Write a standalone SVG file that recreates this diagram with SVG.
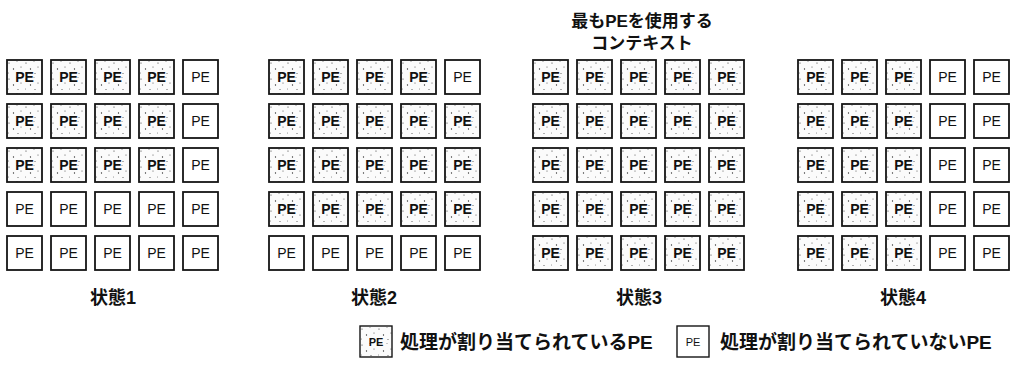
<svg xmlns="http://www.w3.org/2000/svg" width="1010" height="367" viewBox="0 0 1010 367">
<style>
.pe rect{stroke:#151515;stroke-width:1.8}
.on rect{fill:url(#dots)}
.off rect{fill:#fff}
.pe text{font-family:"Liberation Sans",Arial,sans-serif;font-size:14px;text-anchor:middle;fill:#111}
.on text{font-weight:bold}
.jp{font-family:"Liberation Sans","Noto Sans CJK JP",sans-serif;font-weight:bold;fill:#111}
.title{font-size:17px;text-anchor:middle}
.lbl{font-size:18px;text-anchor:middle}
.leg{font-size:19px}
</style>
<defs>
<pattern id="dots" width="17" height="16" patternUnits="userSpaceOnUse">
<rect width="17" height="16" fill="#fbfbfb"/>
<g fill="#333">
<circle cx="2" cy="3" r="0.6"/><circle cx="10" cy="1.5" r="0.45"/><circle cx="6.5" cy="9" r="0.65"/>
<circle cx="14" cy="7" r="0.5"/><circle cx="1.5" cy="13" r="0.45"/><circle cx="11" cy="13.5" r="0.5"/>
</g>
</pattern>
</defs>
<rect width="1010" height="367" fill="#fff"/>

<text class="jp title" x="642" y="27">最もPEを使用する</text>
<text class="jp title" x="642" y="49">コンテキスト</text>

<!-- State 1 -->
<g id="state1">
<g id="s1-1-1" class="pe on" transform="translate(7,60)"><rect width="35" height="34"/><text x="17.5" y="22">PE</text></g>
<g id="s1-1-2" class="pe on" transform="translate(51,60)"><rect width="35" height="34"/><text x="17.5" y="22">PE</text></g>
<g id="s1-1-3" class="pe on" transform="translate(95,60)"><rect width="35" height="34"/><text x="17.5" y="22">PE</text></g>
<g id="s1-1-4" class="pe on" transform="translate(139,60)"><rect width="35" height="34"/><text x="17.5" y="22">PE</text></g>
<g id="s1-1-5" class="pe off" transform="translate(183,60)"><rect width="35" height="34"/><text x="17.5" y="22">PE</text></g>
<g id="s1-2-1" class="pe on" transform="translate(7,104)"><rect width="35" height="34"/><text x="17.5" y="22">PE</text></g>
<g id="s1-2-2" class="pe on" transform="translate(51,104)"><rect width="35" height="34"/><text x="17.5" y="22">PE</text></g>
<g id="s1-2-3" class="pe on" transform="translate(95,104)"><rect width="35" height="34"/><text x="17.5" y="22">PE</text></g>
<g id="s1-2-4" class="pe on" transform="translate(139,104)"><rect width="35" height="34"/><text x="17.5" y="22">PE</text></g>
<g id="s1-2-5" class="pe off" transform="translate(183,104)"><rect width="35" height="34"/><text x="17.5" y="22">PE</text></g>
<g id="s1-3-1" class="pe on" transform="translate(7,148)"><rect width="35" height="34"/><text x="17.5" y="22">PE</text></g>
<g id="s1-3-2" class="pe on" transform="translate(51,148)"><rect width="35" height="34"/><text x="17.5" y="22">PE</text></g>
<g id="s1-3-3" class="pe on" transform="translate(95,148)"><rect width="35" height="34"/><text x="17.5" y="22">PE</text></g>
<g id="s1-3-4" class="pe on" transform="translate(139,148)"><rect width="35" height="34"/><text x="17.5" y="22">PE</text></g>
<g id="s1-3-5" class="pe off" transform="translate(183,148)"><rect width="35" height="34"/><text x="17.5" y="22">PE</text></g>
<g id="s1-4-1" class="pe off" transform="translate(7,192)"><rect width="35" height="34"/><text x="17.5" y="22">PE</text></g>
<g id="s1-4-2" class="pe off" transform="translate(51,192)"><rect width="35" height="34"/><text x="17.5" y="22">PE</text></g>
<g id="s1-4-3" class="pe off" transform="translate(95,192)"><rect width="35" height="34"/><text x="17.5" y="22">PE</text></g>
<g id="s1-4-4" class="pe off" transform="translate(139,192)"><rect width="35" height="34"/><text x="17.5" y="22">PE</text></g>
<g id="s1-4-5" class="pe off" transform="translate(183,192)"><rect width="35" height="34"/><text x="17.5" y="22">PE</text></g>
<g id="s1-5-1" class="pe off" transform="translate(7,236)"><rect width="35" height="34"/><text x="17.5" y="22">PE</text></g>
<g id="s1-5-2" class="pe off" transform="translate(51,236)"><rect width="35" height="34"/><text x="17.5" y="22">PE</text></g>
<g id="s1-5-3" class="pe off" transform="translate(95,236)"><rect width="35" height="34"/><text x="17.5" y="22">PE</text></g>
<g id="s1-5-4" class="pe off" transform="translate(139,236)"><rect width="35" height="34"/><text x="17.5" y="22">PE</text></g>
<g id="s1-5-5" class="pe off" transform="translate(183,236)"><rect width="35" height="34"/><text x="17.5" y="22">PE</text></g>
<text class="jp lbl" x="113" y="304">状態1</text>
</g>

<!-- State 2 -->
<g id="state2">
<g id="s2-1-1" class="pe on" transform="translate(269,60)"><rect width="35" height="34"/><text x="17.5" y="22">PE</text></g>
<g id="s2-1-2" class="pe on" transform="translate(313,60)"><rect width="35" height="34"/><text x="17.5" y="22">PE</text></g>
<g id="s2-1-3" class="pe on" transform="translate(357,60)"><rect width="35" height="34"/><text x="17.5" y="22">PE</text></g>
<g id="s2-1-4" class="pe on" transform="translate(401,60)"><rect width="35" height="34"/><text x="17.5" y="22">PE</text></g>
<g id="s2-1-5" class="pe off" transform="translate(445,60)"><rect width="35" height="34"/><text x="17.5" y="22">PE</text></g>
<g id="s2-2-1" class="pe on" transform="translate(269,104)"><rect width="35" height="34"/><text x="17.5" y="22">PE</text></g>
<g id="s2-2-2" class="pe on" transform="translate(313,104)"><rect width="35" height="34"/><text x="17.5" y="22">PE</text></g>
<g id="s2-2-3" class="pe on" transform="translate(357,104)"><rect width="35" height="34"/><text x="17.5" y="22">PE</text></g>
<g id="s2-2-4" class="pe on" transform="translate(401,104)"><rect width="35" height="34"/><text x="17.5" y="22">PE</text></g>
<g id="s2-2-5" class="pe on" transform="translate(445,104)"><rect width="35" height="34"/><text x="17.5" y="22">PE</text></g>
<g id="s2-3-1" class="pe on" transform="translate(269,148)"><rect width="35" height="34"/><text x="17.5" y="22">PE</text></g>
<g id="s2-3-2" class="pe on" transform="translate(313,148)"><rect width="35" height="34"/><text x="17.5" y="22">PE</text></g>
<g id="s2-3-3" class="pe on" transform="translate(357,148)"><rect width="35" height="34"/><text x="17.5" y="22">PE</text></g>
<g id="s2-3-4" class="pe on" transform="translate(401,148)"><rect width="35" height="34"/><text x="17.5" y="22">PE</text></g>
<g id="s2-3-5" class="pe on" transform="translate(445,148)"><rect width="35" height="34"/><text x="17.5" y="22">PE</text></g>
<g id="s2-4-1" class="pe on" transform="translate(269,192)"><rect width="35" height="34"/><text x="17.5" y="22">PE</text></g>
<g id="s2-4-2" class="pe on" transform="translate(313,192)"><rect width="35" height="34"/><text x="17.5" y="22">PE</text></g>
<g id="s2-4-3" class="pe on" transform="translate(357,192)"><rect width="35" height="34"/><text x="17.5" y="22">PE</text></g>
<g id="s2-4-4" class="pe on" transform="translate(401,192)"><rect width="35" height="34"/><text x="17.5" y="22">PE</text></g>
<g id="s2-4-5" class="pe on" transform="translate(445,192)"><rect width="35" height="34"/><text x="17.5" y="22">PE</text></g>
<g id="s2-5-1" class="pe off" transform="translate(269,236)"><rect width="35" height="34"/><text x="17.5" y="22">PE</text></g>
<g id="s2-5-2" class="pe off" transform="translate(313,236)"><rect width="35" height="34"/><text x="17.5" y="22">PE</text></g>
<g id="s2-5-3" class="pe off" transform="translate(357,236)"><rect width="35" height="34"/><text x="17.5" y="22">PE</text></g>
<g id="s2-5-4" class="pe off" transform="translate(401,236)"><rect width="35" height="34"/><text x="17.5" y="22">PE</text></g>
<g id="s2-5-5" class="pe off" transform="translate(445,236)"><rect width="35" height="34"/><text x="17.5" y="22">PE</text></g>
<text class="jp lbl" x="374" y="304">状態2</text>
</g>

<!-- State 3 -->
<g id="state3">
<g id="s3-1-1" class="pe on" transform="translate(533,60)"><rect width="35" height="34"/><text x="17.5" y="22">PE</text></g>
<g id="s3-1-2" class="pe on" transform="translate(577,60)"><rect width="35" height="34"/><text x="17.5" y="22">PE</text></g>
<g id="s3-1-3" class="pe on" transform="translate(621,60)"><rect width="35" height="34"/><text x="17.5" y="22">PE</text></g>
<g id="s3-1-4" class="pe on" transform="translate(665,60)"><rect width="35" height="34"/><text x="17.5" y="22">PE</text></g>
<g id="s3-1-5" class="pe on" transform="translate(709,60)"><rect width="35" height="34"/><text x="17.5" y="22">PE</text></g>
<g id="s3-2-1" class="pe on" transform="translate(533,104)"><rect width="35" height="34"/><text x="17.5" y="22">PE</text></g>
<g id="s3-2-2" class="pe on" transform="translate(577,104)"><rect width="35" height="34"/><text x="17.5" y="22">PE</text></g>
<g id="s3-2-3" class="pe on" transform="translate(621,104)"><rect width="35" height="34"/><text x="17.5" y="22">PE</text></g>
<g id="s3-2-4" class="pe on" transform="translate(665,104)"><rect width="35" height="34"/><text x="17.5" y="22">PE</text></g>
<g id="s3-2-5" class="pe on" transform="translate(709,104)"><rect width="35" height="34"/><text x="17.5" y="22">PE</text></g>
<g id="s3-3-1" class="pe on" transform="translate(533,148)"><rect width="35" height="34"/><text x="17.5" y="22">PE</text></g>
<g id="s3-3-2" class="pe on" transform="translate(577,148)"><rect width="35" height="34"/><text x="17.5" y="22">PE</text></g>
<g id="s3-3-3" class="pe on" transform="translate(621,148)"><rect width="35" height="34"/><text x="17.5" y="22">PE</text></g>
<g id="s3-3-4" class="pe on" transform="translate(665,148)"><rect width="35" height="34"/><text x="17.5" y="22">PE</text></g>
<g id="s3-3-5" class="pe on" transform="translate(709,148)"><rect width="35" height="34"/><text x="17.5" y="22">PE</text></g>
<g id="s3-4-1" class="pe on" transform="translate(533,192)"><rect width="35" height="34"/><text x="17.5" y="22">PE</text></g>
<g id="s3-4-2" class="pe on" transform="translate(577,192)"><rect width="35" height="34"/><text x="17.5" y="22">PE</text></g>
<g id="s3-4-3" class="pe on" transform="translate(621,192)"><rect width="35" height="34"/><text x="17.5" y="22">PE</text></g>
<g id="s3-4-4" class="pe on" transform="translate(665,192)"><rect width="35" height="34"/><text x="17.5" y="22">PE</text></g>
<g id="s3-4-5" class="pe on" transform="translate(709,192)"><rect width="35" height="34"/><text x="17.5" y="22">PE</text></g>
<g id="s3-5-1" class="pe on" transform="translate(533,236)"><rect width="35" height="34"/><text x="17.5" y="22">PE</text></g>
<g id="s3-5-2" class="pe on" transform="translate(577,236)"><rect width="35" height="34"/><text x="17.5" y="22">PE</text></g>
<g id="s3-5-3" class="pe on" transform="translate(621,236)"><rect width="35" height="34"/><text x="17.5" y="22">PE</text></g>
<g id="s3-5-4" class="pe on" transform="translate(665,236)"><rect width="35" height="34"/><text x="17.5" y="22">PE</text></g>
<g id="s3-5-5" class="pe on" transform="translate(709,236)"><rect width="35" height="34"/><text x="17.5" y="22">PE</text></g>
<text class="jp lbl" x="639" y="304">状態3</text>
</g>

<!-- State 4 -->
<g id="state4">
<g id="s4-1-1" class="pe on" transform="translate(798,60)"><rect width="35" height="34"/><text x="17.5" y="22">PE</text></g>
<g id="s4-1-2" class="pe on" transform="translate(842,60)"><rect width="35" height="34"/><text x="17.5" y="22">PE</text></g>
<g id="s4-1-3" class="pe on" transform="translate(886,60)"><rect width="35" height="34"/><text x="17.5" y="22">PE</text></g>
<g id="s4-1-4" class="pe off" transform="translate(930,60)"><rect width="35" height="34"/><text x="17.5" y="22">PE</text></g>
<g id="s4-1-5" class="pe off" transform="translate(974,60)"><rect width="35" height="34"/><text x="17.5" y="22">PE</text></g>
<g id="s4-2-1" class="pe on" transform="translate(798,104)"><rect width="35" height="34"/><text x="17.5" y="22">PE</text></g>
<g id="s4-2-2" class="pe on" transform="translate(842,104)"><rect width="35" height="34"/><text x="17.5" y="22">PE</text></g>
<g id="s4-2-3" class="pe on" transform="translate(886,104)"><rect width="35" height="34"/><text x="17.5" y="22">PE</text></g>
<g id="s4-2-4" class="pe off" transform="translate(930,104)"><rect width="35" height="34"/><text x="17.5" y="22">PE</text></g>
<g id="s4-2-5" class="pe off" transform="translate(974,104)"><rect width="35" height="34"/><text x="17.5" y="22">PE</text></g>
<g id="s4-3-1" class="pe on" transform="translate(798,148)"><rect width="35" height="34"/><text x="17.5" y="22">PE</text></g>
<g id="s4-3-2" class="pe on" transform="translate(842,148)"><rect width="35" height="34"/><text x="17.5" y="22">PE</text></g>
<g id="s4-3-3" class="pe on" transform="translate(886,148)"><rect width="35" height="34"/><text x="17.5" y="22">PE</text></g>
<g id="s4-3-4" class="pe off" transform="translate(930,148)"><rect width="35" height="34"/><text x="17.5" y="22">PE</text></g>
<g id="s4-3-5" class="pe off" transform="translate(974,148)"><rect width="35" height="34"/><text x="17.5" y="22">PE</text></g>
<g id="s4-4-1" class="pe on" transform="translate(798,192)"><rect width="35" height="34"/><text x="17.5" y="22">PE</text></g>
<g id="s4-4-2" class="pe on" transform="translate(842,192)"><rect width="35" height="34"/><text x="17.5" y="22">PE</text></g>
<g id="s4-4-3" class="pe on" transform="translate(886,192)"><rect width="35" height="34"/><text x="17.5" y="22">PE</text></g>
<g id="s4-4-4" class="pe off" transform="translate(930,192)"><rect width="35" height="34"/><text x="17.5" y="22">PE</text></g>
<g id="s4-4-5" class="pe off" transform="translate(974,192)"><rect width="35" height="34"/><text x="17.5" y="22">PE</text></g>
<g id="s4-5-1" class="pe on" transform="translate(798,236)"><rect width="35" height="34"/><text x="17.5" y="22">PE</text></g>
<g id="s4-5-2" class="pe on" transform="translate(842,236)"><rect width="35" height="34"/><text x="17.5" y="22">PE</text></g>
<g id="s4-5-3" class="pe on" transform="translate(886,236)"><rect width="35" height="34"/><text x="17.5" y="22">PE</text></g>
<g id="s4-5-4" class="pe off" transform="translate(930,236)"><rect width="35" height="34"/><text x="17.5" y="22">PE</text></g>
<g id="s4-5-5" class="pe off" transform="translate(974,236)"><rect width="35" height="34"/><text x="17.5" y="22">PE</text></g>
<text class="jp lbl" x="903" y="304">状態4</text>
</g>

<!-- Legend -->
<g id="legend">
<g id="legend-assigned" class="pe on" transform="translate(360,326)"><rect width="32" height="31" style="stroke-width:1.4"/><text x="16" y="20" style="font-size:11px">PE</text></g>
<text class="jp leg" x="400" y="349">処理が割り当てられているPE</text>
<g id="legend-free" class="pe off" transform="translate(677,326)"><rect width="32" height="31" style="stroke-width:1.4"/><text x="16" y="20" style="font-size:11px">PE</text></g>
<text class="jp leg" x="720" y="349">処理が割り当てられていないPE</text>
</g>
<g id="connectors"/>
</svg>
